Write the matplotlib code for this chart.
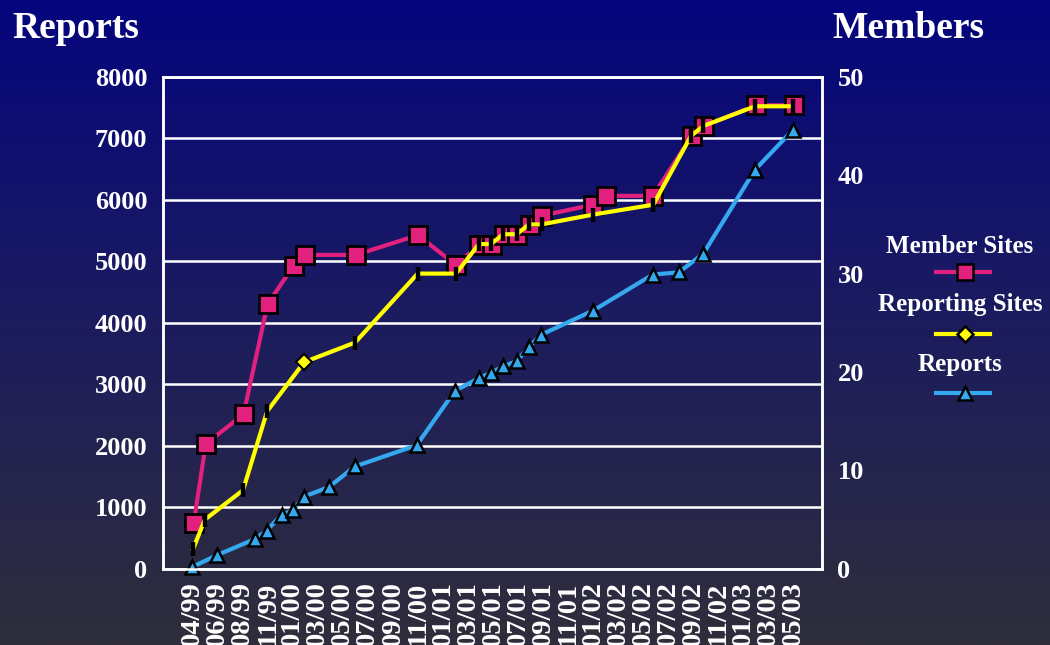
import numpy as np
import matplotlib
matplotlib.use('Agg')
import matplotlib.pyplot as plt
from matplotlib.lines import Line2D
from matplotlib.colors import LinearSegmentedColormap

# tick labels along the bottom (evenly spaced)
date_labels = ['04/99', '06/99', '08/99', '11/99', '01/00', '03/00', '05/00', '07/00',
               '09/00', '11/00', '01/01', '03/01', '05/01', '07/01', '09/01', '11/01',
               '01/02', '03/02', '05/02', '07/02', '09/02', '11/02', '01/03', '03/03',
               '05/03']

# x positions are in label-slot units (0 = 04/99, 24 = 05/03)
member_x = [0.04, 0.52, 2.03, 2.99, 4.03, 4.48, 6.52, 8.99, 10.52, 11.45, 11.95,
            12.45, 12.95, 13.48, 13.97, 16.01, 16.52, 18.4, 19.95, 20.44, 22.52, 24.04]
member_sites = [4.7, 12.7, 15.7, 26.9, 30.8, 31.9, 31.9, 33.9, 30.9, 32.9, 32.9,
                33.9, 33.9, 34.9, 35.9, 37.0, 37.9, 37.9, 44, 45, 47.1, 47.1]

reporting_x = [0.01, 0.48, 2.01, 2.97, 4.45, 6.49, 8.99, 10.52, 11.44, 11.92,
               12.41, 12.95, 13.44, 13.95, 16.01, 18.41, 19.92, 20.41, 22.48, 23.99]
reporting_sites = [2, 5, 8, 16, 21, 23, 30, 30, 33, 33,
                   34, 34, 35, 35, 36, 37, 44, 45, 47, 47]

reports_x = [-0.03, 0.95, 2.48, 2.95, 3.55, 3.99, 4.44, 5.44, 6.48, 8.95, 10.48,
             11.44, 11.92, 12.41, 12.95, 13.44, 13.92, 16.01, 18.39, 19.43, 20.41,
             22.48, 23.99]
reports = [30, 220, 485, 620, 880, 950, 1175, 1330, 1665, 2010, 2895,
           3100, 3190, 3290, 3380, 3610, 3805, 4200, 4785, 4820, 5125,
           6490, 7135]

PINK = '#e2207e'
YELLOW = '#ffff00'
BLUE = '#35a9ef'
SERIF = ['Liberation Serif', 'DejaVu Serif']

fig = plt.figure(figsize=(10.5, 6.45), dpi=100)

# background gradient
bg = fig.add_axes([0, 0, 1, 1], zorder=-10)
cmap = LinearSegmentedColormap.from_list('bg', [(0.0, '#05057e'), (0.45, '#1a1a62'),
                                                (1.0, '#2f2e3b')])
bg.imshow(np.linspace(0, 1, 256).reshape(-1, 1), aspect='auto', cmap=cmap,
          extent=[0, 1, 0, 1])
bg.axis('off')

ax = fig.add_axes([0.155, 0.118, 0.628, 0.763])
ax.patch.set_alpha(0)
ax2 = ax.twinx()
ax2.patch.set_alpha(0)

ax.set_xlim(-1.2, 25.16)
ax.set_ylim(0, 8000)
ax2.set_ylim(0, 50)
ax.set_yticks(range(0, 8001, 1000))
ax2.set_yticks(range(0, 51, 10))
ax.set_xticks(range(len(date_labels)))
ax.set_xticklabels(date_labels, rotation=90)

ax.grid(axis='y', color='white', lw=1.8)
ax.set_axisbelow(True)
for a in (ax, ax2):
    for s in a.spines.values():
        s.set_color('white')
        s.set_linewidth(1.8)
    a.tick_params(length=0, labelcolor='white')
    for lab in a.get_xticklabels() + a.get_yticklabels():
        lab.set_family(SERIF)
        lab.set_weight('bold')
ax.tick_params(axis='y', labelsize=19, pad=11)
ax.tick_params(axis='x', labelsize=20.5, pad=9)
ax2.tick_params(axis='y', labelsize=19, pad=11)

ax.plot(reports_x, reports, color=BLUE, lw=3, marker='^', ms=10,
        mfc=BLUE, mec='black', mew=1.8, zorder=3, clip_on=False)
ax2.plot(member_x, member_sites, color=PINK, lw=3, marker='s', ms=12.5,
         mfc=PINK, mec='black', mew=2, zorder=3)
ax2.plot(reporting_x, reporting_sites, color=YELLOW, lw=3, marker='|', ms=10,
         mec='black', mew=3.2, zorder=4)
ax2.plot(reporting_x[4], reporting_sites[4], marker='D', ms=8, mfc=YELLOW,
         mec='black', mew=1.5, zorder=5)

fig.text(12 / 1050, 1 - 29 / 645, 'Reports', color='white', fontsize=27,
         family=SERIF, weight='bold', va='center', ha='left')
fig.text(832 / 1050, 1 - 28 / 645, 'Members', color='white', fontsize=27,
         family=SERIF, weight='bold', va='center', ha='left')

# legend drawn by hand: text above each line sample
entries = [('Member Sites', PINK, 's', 12, 247, 272),
           ('Reporting Sites', YELLOW, 'D', 8, 305, 334),
           ('Reports', BLUE, '^', 10, 365, 393)]
for name, col, mk, ms, ty, ly in entries:
    fig.text(960 / 1050, 1 - ty / 645, name, color='white', fontsize=18,
             family=SERIF, weight='bold', ha='center', va='center')
    fig.add_artist(Line2D([936 / 1050, 990 / 1050], [1 - ly / 645] * 2, color=col,
                          lw=3, transform=fig.transFigure))
    fig.add_artist(Line2D([965 / 1050], [1 - ly / 645], marker=mk, ms=ms, mfc=col,
                          mec='black', mew=1.8, transform=fig.transFigure))

fig.savefig('out.png', dpi=100)
